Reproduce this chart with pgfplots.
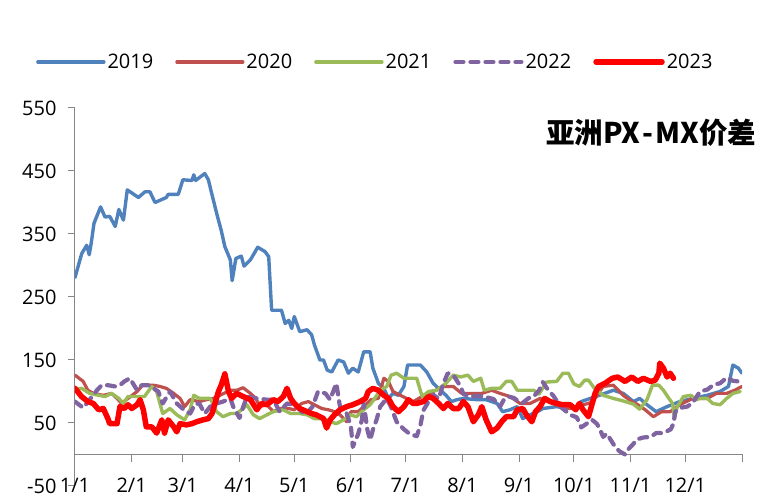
\documentclass[border=0pt]{standalone}
\usepackage{fontspec}
\setmainfont{Open Sans}
\newfontfamily\cjk{Noto Sans CJK SC}
\usepackage{pgfplots}
\pgfplotsset{compat=1.18}
\definecolor{c19}{HTML}{4F81BD}
\definecolor{c20}{HTML}{C0504D}
\definecolor{c21}{HTML}{9BBB59}
\definecolor{c22}{HTML}{8064A2}
\definecolor{c23}{HTML}{FF0000}
\definecolor{axgray}{HTML}{868686}
\begin{document}
\begin{tikzpicture}
\path[use as bounding box] (-75bp,-12bp) rectangle (694bp,486bp);
\begin{axis}[
  scale only axis, width=667bp, height=378bp,
  at={(0,0)}, anchor=south west,
  xmin=0, xmax=365, ymin=-50, ymax=550,
  clip mode=individual,
  axis x line=middle, axis y line=left,
  hide obscured x ticks=false, hide obscured y ticks=false,
  x axis line style={-, draw=axgray, line width=1bp},
  y axis line style={-, draw=axgray, line width=1bp},
  xtick={0,31,59,90,120,151,181,212,243,273,304,334,365},
  xticklabels={1/1,2/1,3/1,4/1,5/1,6/1,7/1,8/1,9/1,10/1,11/1,12/1,{}},
  ytick={-50,50,150,250,350,450,550},
  tick align=outside, major tick length=7bp,
  tick style={draw=axgray, line width=1bp},
  /pgf/number format/assume math mode=true,
  ticklabel style={font=\fontsize{20bp}{24bp}\selectfont},
  xticklabel style={yshift=-13bp},
  yticklabel style={xshift=-8bp},
  legend style={at={(-0.063,1.1217)}, anchor=west, draw=none, fill=none,
    font=\fontsize{20bp}{24bp}\selectfont,
    /tikz/every even column/.append style={column sep=20bp}},
  legend columns=5,
  legend cell align=left,
  legend image code/.code={\draw[#1] (0bp,0bp) -- (66bp,0bp);},
  every axis plot/.append style={line join=round, line cap=round},
]
\addplot[c19, line width=3.4bp] coordinates {
(0,281)(3.7,319)(6.4,332)(7.8,317)(9,338)(10.4,367)(14,393)(16.4,377)(19,378)(22,362)(24,389)(26.5,372)(28.6,420)(34.7,408)(38.3,417)(41,417)(43.8,400)(50,408)(51,413)(56.5,413)(57.5,422)(59,436)(64,435)(65,444)(66,435)(71,446)(73,436)(75,412)(77.5,383)(80,356)(82,330)(85,309)(86,276)(88,311)(91,315)(92.5,299)(96,309)(100,329)(104,322)(106,314)(107.6,229)(113,229)(115,208)(117,213)(118.6,200)(120,219)(123,195)(127,198)(129.5,190)(131,174)(134,150)(136,150)(138,134)(140.5,131)(144,150)(147,147)(149.6,129)(152,137)(155,131)(158,163)(161.5,163)(163,137)(166,113)(169,105)(171.5,89)(174,97)(177,94)(180,108)(182,142)(189,142)(192.5,131)(196,113)(200,102)(203,94)(206,84)(209,87)(212.5,89)(220,87)(225,87)(231,81)(234,68)(238,71)(242,76)(245,57)(249,63)(253,68)(256,73)(263.6,76)(269,73)(274.6,76)(277,84)(282,89)(287,94)(294.6,102)(300,97)(305.6,84)(309,89)(313,79)(318,68)(324,76)(331,84)(338,89)(346,94)(353,100)(357.6,108)(360,142)(363,137)(365,129)};
\addlegendentry{2019}
\addplot[c20, line width=3.2bp] coordinates {
(0,126)(4.5,116)(7,102)(10,97)(15.5,94)(20,97)(23,89)(25.5,81)(29,89)(34,100)(37,110)(43,110)(46.5,108)(50,105)(54,97)(57.5,89)(60,76)(63,87)(68,84)(72,87)(75.7,89)(80,95)(85,102)(88.5,102)(92,106)(96,97)(99,89)(101,76)(105,79)(108.5,68)(112,73)(117,73)(120,71)(124,81)(127.7,84)(131,79)(135,73)(138.6,71)(142,68)(145,63)(148.7,52)(151,68)(155,68)(159,79)(162,87)(166,89)(169,121)(171.5,116)(174,100)(178,94)(181.5,89)(184,82)(191,94)(196,100)(201.6,108)(207,108)(211.6,97)(217,97)(222.6,97)(228,102)(232.6,97)(238,92)(243.6,81)(249,81)(254.5,89)(260,84)(265.5,76)(271,73)(276,77)(283,83)(289,108)(294.6,110)(300,94)(304.7,84)(308,79)(312,71)(316.5,60)(321,68)(325.7,68)(331,79)(338,89)(346,89)(351,97)(356.6,97)(361,102)(365,108)};
\addlegendentry{2020}
\addplot[c21, line width=3.4bp] coordinates {
(0,103)(3.6,105)(8,97)(13,94)(16.4,92)(20,97)(24,89)(26.5,81)(29,92)(34,92)(38,92)(42,108)(44.7,100)(48,65)(52,73)(55.7,63)(60,55)(63,71)(65,94)(68,89)(74,89)(77.5,68)(81,60)(85,65)(88.5,65)(92,73)(94,79)(97.6,63)(101,57)(105,63)(108.5,68)(114,71)(118,65)(123,65)(127,63)(131,57)(136,57)(139.6,52)(143,49)(147,55)(150.5,63)(154,60)(158,71)(161.5,79)(164,89)(167,102)(170.6,108)(173,126)(176,129)(180,121)(183,121)(187,121)(190,92)(193.5,100)(198,102)(203,113)(207,126)(211,123)(215,126)(218,116)(222,121)(224,102)(228,105)(232.6,105)(236,116)(239,116)(242,102)(246,102)(251,102)(254,96)(258,115)(263.6,116)(267,129)(270,129)(273,112)(276,108)(279,118)(281,118)(284,106)(289,94)(294.6,89)(300,85)(305.6,80)(309,72)(313,87)(316,110)(319.5,110)(322,102)(325,89)(327,81)(328,57)(329.6,76)(333,92)(337,94)(340,87)(342,89)(346,89)(349,81)(353,79)(356.6,89)(360,97)(364,100)};
\addlegendentry{2021}
\addplot[c22, line width=4.2bp, dash pattern=on 8bp off 7bp] coordinates {
(0,84)(4.5,74)(8,87)(12,102)(14.6,110)(18,110)(22,108)(24.6,110)(27,116)(30,121)(34,102)(36.5,110)(40,110)(43,105)(45.6,100)(48,81)(52,100)(55.7,81)(60,70)(63,65)(65.7,80)(68,81)(71,65)(74,76)(77.5,81)(81,84)(85,89)(86.6,76)(90,58)(94,92)(99.5,89)(105,87)(108.6,87)(112,68)(116,81)(120,79)(126,63)(130,76)(133,100)(137,97)(139.6,87)(143,113)(145,76)(148.7,65)(151,44)(152,12)(155,33)(157,55)(158,81)(160,39)(161.5,23)(163,39)(165,55)(167,76)(170.6,89)(173,75)(176,52)(180,40)(183,33)(187,29)(189,46)(190.6,70)(193.5,84)(196,95)(199,88)(201.6,113)(204,129)(207,126)(211,108)(212.5,96)(216,92)(220,93)(224,92)(229,88)(232.6,76)(234.5,86)(237,92)(240,90)(243,84)(245,82)(248,89)(251,92)(254,102)(256,115)(258,106)(261.8,93)(266,75)(271,63)(274.6,59)(277,43)(280,49)(283,55)(285.5,49)(287,42)(289,28)(291,33)(293,24)(295.6,12)(298,5)(301,0)(303,9)(305.6,17)(307.5,24)(311,27)(315,28)(318,34)(322,34)(326,40)(327.5,49)(328.5,68)(331,74)(335,76)(338,82)(342,100)(346,103)(349.6,111)(353,113)(356.6,122)(360,117)(363,116)(365,110)};
\addlegendentry{2022}
\addplot[c23, line width=5.5bp] coordinates {
(0,105)(3.6,92)(7,84)(10,81)(13,71)(15.5,73)(18,57)(19,49)(23,49)(24.6,76)(27,73)(29,79)(31,73)(34,79)(35.6,87)(37.4,71)(39,44)(42,44)(44.7,34)(47.5,55)(49,34)(51,55)(54,44)(55.7,36)(57.5,49)(61,47)(64,49)(66.6,52)(70,55)(73,57)(75,65)(76.6,81)(78.5,100)(80,110)(82,128)(84,100)(85.7,89)(88.5,97)(92,92)(96,87)(99.5,71)(102,81)(105,79)(108.5,87)(111,84)(114,92)(116,105)(118,89)(120,81)(123,73)(127,68)(129.5,65)(132,63)(136,57)(137.7,42)(139.6,55)(142,63)(145,71)(148.7,76)(152,79)(156,84)(159,89)(160.5,100)(163,105)(166,102)(169,94)(171.5,89)(174,76)(177,68)(180,76)(182.5,87)(185,81)(187,81)(190.6,84)(193.5,92)(196,89)(199,81)(201.6,73)(204,81)(207,73)(210,73)(212.5,84)(215,76)(218,52)(220.7,63)(222.6,76)(225,55)(228,36)(231,42)(233.5,52)(236,60)(240,60)(242,71)(245,73)(247,63)(250,52)(252,68)(254.5,76)(257,89)(260,84)(263.6,81)(267,79)(271,79)(274,71)(276,81)(278,71)(281,60)(284.6,97)(286.5,108)(290,113)(294,121)(297,123)(301,116)(304.7,123)(308,116)(311,121)(315,116)(317.5,118)(319.5,129)(320,145)(322,137)(324,123)(325.7,129)(327.5,121)};
\addlegendentry{2023}
\node[font=\cjk\bfseries\fontsize{28.5bp}{32bp}\selectfont] at (rel axis cs:0.8636,0.934) {亚洲PX\hspace{2bp}-\hspace{2bp}MX价差};
\end{axis}
\end{tikzpicture}
\end{document}
